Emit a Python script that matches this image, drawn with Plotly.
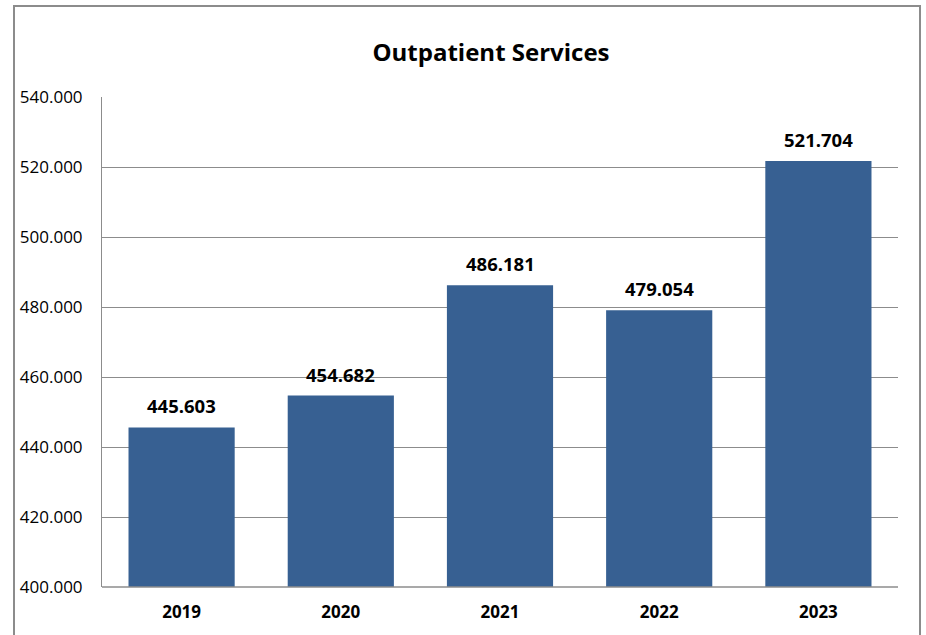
import plotly.graph_objects as go

years = ["2019", "2020", "2021", "2022", "2023"]
visits = [445603, 454682, 486181, 479054, 521704]
y_ticks = [400000, 420000, 440000, 460000, 480000, 500000, 520000, 540000]

BAR = "#376092"
GRID = "#8c8c8c"
FONT = "Open Sans"

W, H = 926, 635
L, R, T, B = 102, 28, 97, 48
pw, ph = W - L - R, H - T - B

fig = go.Figure()
fig.add_trace(go.Bar(x=years, y=visits, marker=dict(color=BAR, line=dict(width=0)),
                     width=0.667, hoverinfo="skip"))

for i, v in enumerate(visits):
    fig.add_annotation(x=i, y=v, text=f"<b>{v:,}</b>".replace(",", "."),
                       showarrow=False, yanchor="bottom", yshift=7,
                       font=dict(family=FONT, size=18.5, color="#000000"))

# outer frame
fig.add_shape(type="rect", xref="paper", yref="paper",
              x0=(14 - L) / pw, x1=(920 - L) / pw,
              y0=(H - B - 700) / ph, y1=(H - 6 - B) / ph,
              line=dict(color="#8c8c8c", width=2), fillcolor="rgba(0,0,0,0)", layer="below")

fig.update_layout(
    width=W, height=H,
    margin=dict(l=L, r=R, t=T, b=B),
    paper_bgcolor="white", plot_bgcolor="white",
    separators=",.",
    showlegend=False,
    title=dict(text="<b>Outpatient Services</b>", x=491 / W, xanchor="center",
               y=1 - 53 / H, yanchor="middle", yref="container",
               font=dict(family=FONT, size=24, color="#000000")),
    bargap=0.333,
    xaxis=dict(type="category", categoryorder="array", categoryarray=years,
               range=[-0.5, len(years) - 0.5],
               showgrid=False, showline=False, ticks="", zeroline=False,
               tickfont=dict(family=FONT, size=17, color="#000000", weight="bold"),
               ticklabelstandoff=13),
    yaxis=dict(range=[400000, 540000], tickvals=y_ticks, tickformat=",d",
               showgrid=True, gridcolor=GRID, gridwidth=1,
               showline=True, linecolor=GRID, linewidth=1, ticks="", zeroline=False,
               tickfont=dict(family=FONT, size=17, color="#000000"),
               ticklabelstandoff=15),
)
# bottom axis line at 400.000
fig.add_shape(type="line", xref="paper", yref="paper", x0=0, x1=1, y0=0, y1=0,
              line=dict(color=GRID, width=1.5))

fig.write_html("out.html", config={"displayModeBar": False},
               post_script="document.body.style.margin='0';")
